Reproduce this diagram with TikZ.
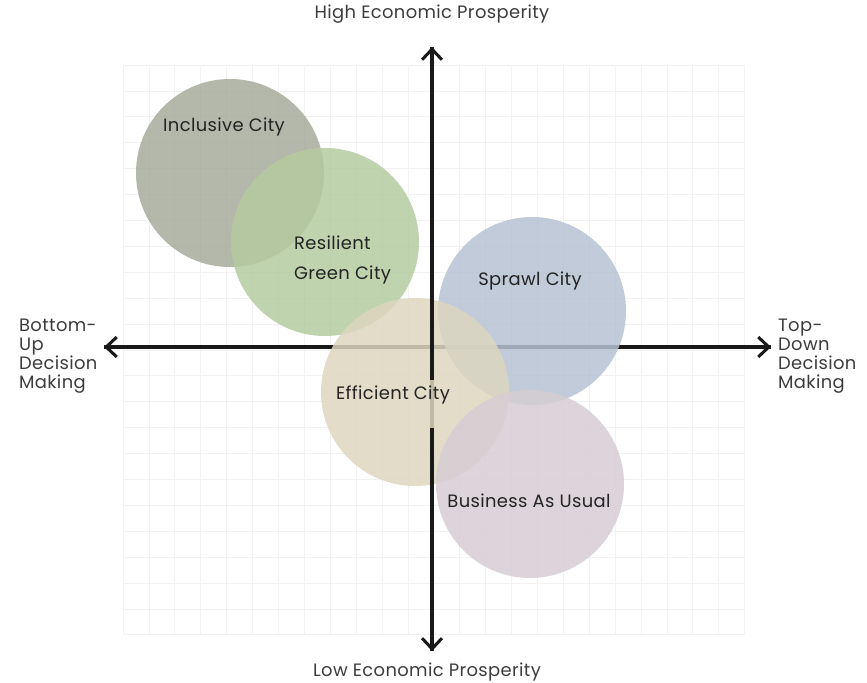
\documentclass[tikz,border=0pt]{standalone}
\usepackage{fontspec}
\setmainfont{Poppins}[LetterSpace=2]
\usetikzlibrary{arrows.meta}

% colours of the five city circles
\definecolor{inclusivecol}{RGB}{166,171,155}
\definecolor{resilientcol}{RGB}{180,203,160}
\definecolor{sprawlcol}{RGB}{182,194,210}
\definecolor{efficientcol}{RGB}{221,214,192}
\definecolor{businesscol}{RGB}{214,205,211}
\definecolor{gridcol}{RGB}{242,242,242}
\definecolor{labelcol}{RGB}{60,60,60}
\definecolor{citytext}{RGB}{35,35,35}

\tikzset{
  axis/.style={line width=2.6pt, draw=black!90, -{Straight Barb[length=9pt,width=17pt,line width=2.6pt]}},
  axisline/.style={line width=2.6pt, draw=black!90},
  city/.style={circle, minimum size=5.64cm, inner sep=0pt, fill opacity=0.85},
  citylabel/.style={font=\fontsize{15.3}{25.5}\selectfont, text=citytext},
  axislabel/.style={font=\fontsize{15.3}{16.2}\selectfont, text=labelcol, align=left}
}

\begin{document}
\begin{tikzpicture}[x=0.03cm, y=-0.03cm]

  % fix the page to the size of the reference
  \useasboundingbox (0,0) rectangle (867,683);

  % Light background grid
  \foreach \i in {0,...,24} {
    \draw[gridcol, line width=0.6pt] (123+25.9*\i, 65) -- (123+25.9*\i, 635);
  }
  \foreach \j in {0,...,22} {
    \draw[gridcol, line width=0.6pt] (123, 65+25.9*\j) -- (745, 65+25.9*\j);
  }

  % Ends of the two axes
  \coordinate (west) at (104, 347);
  \coordinate (east) at (771, 347);
  \coordinate (north) at (432, 47);
  \coordinate (south) at (432, 651);
  \coordinate (gaptop) at (432, 380);
  \coordinate (gapbot) at (432, 428);

  % Horizontal axis lies under the circles
  \draw[axis] (east) -- (west);
  \draw[axis] (west) -- (east);
  \draw[axisline] (north) -- (south);

  % The five scenario circles
  \node[city, fill=inclusivecol] (inclusive) at (230, 173) {};
  \node[city, fill=resilientcol] (resilient) at (325, 242) {};
  \node[city, fill=sprawlcol] (sprawl) at (532, 311) {};
  \node[city, fill=efficientcol] (efficient) at (415, 392) {};
  \node[city, fill=businesscol] (business) at (530, 484) {};

  % Vertical axis drawn over the circles, with a gap behind the label
  \draw[axis] (gaptop) -- (north);
  \draw[axis] (gapbot) -- (south);

  % Circle labels
  \node[citylabel] (inclusivetxt) at (224, 127) {Inclusive City};
  \node[citylabel, align=left, anchor=west] (resilienttxt) at (290, 260) {Resilient\\Green City};
  \node[citylabel] (sprawltxt) at (530, 281) {Sprawl City};
  \node[citylabel] (efficienttxt) at (393, 395) {Efficient City};
  \node[citylabel] (businesstxt) at (529, 501) {Business As Usual};

  % Axis labels
  \node[axislabel] (high) at (432, 14) {High Economic Prosperity};
  \node[axislabel] (low) at (427, 672) {Low Economic Prosperity};
  \node[axislabel, anchor=west] (bottomup) at (15, 356) {Bottom-\\Up\\Decision\\Making};
  \node[axislabel, anchor=west] (topdown) at (774, 356) {Top-\\Down\\Decision\\Making};

\end{tikzpicture}
\end{document}
